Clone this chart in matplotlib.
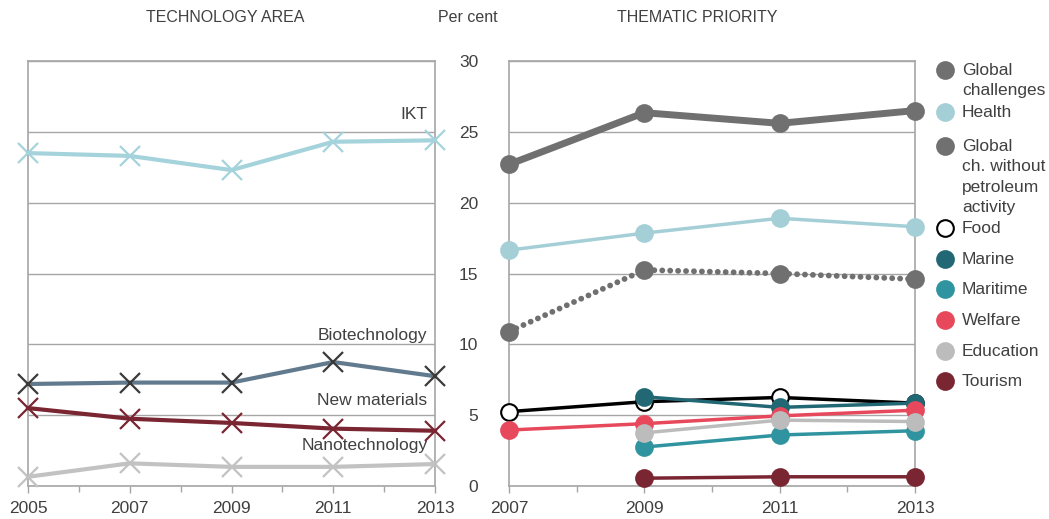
import matplotlib
matplotlib.use('Agg')
import matplotlib.pyplot as plt
from matplotlib.lines import Line2D

plt.rcParams['font.family'] = ['Liberation Sans', 'DejaVu Sans']

TXT = '#404040'
GRID = '#a6a6a6'

# left panel: technology area
tech_years = [2005, 2007, 2009, 2011, 2013]
ikt = [23.5, 23.3, 22.3, 24.3, 24.4]
biotech = [7.2, 7.3, 7.3, 8.75, 7.75]
new_materials = [5.5, 4.75, 4.45, 4.05, 3.9]
nanotech = [0.65, 1.6, 1.35, 1.35, 1.55]

tech_labels = ['IKT', 'Biotechnology', 'New materials', 'Nanotechnology']
tech_label_y = [26.2, 10.65, 6.05, 2.85]

# right panel: thematic priority
theme_years = [2007, 2009, 2011, 2013]
global_ch = [22.7, 26.35, 25.6, 26.5]
health = [16.65, 17.85, 18.9, 18.3]
global_no_oil = [10.9, 15.25, 15.0, 14.6]
food = [5.25, 5.95, 6.25, 5.85]
marine = [None, 6.3, 5.55, 5.85]
maritime = [None, 2.75, 3.6, 3.9]
welfare = [3.95, 4.4, 4.95, 5.35]
education = [None, 3.75, 4.65, 4.55]
tourism = [None, 0.55, 0.65, 0.65]

fig = plt.figure(figsize=(10.49, 5.19), dpi=100)
W, H = 1049, 519
axl = fig.add_axes([28 / W, 33 / H, 407 / W, 425 / H])
axr = fig.add_axes([509 / W, 33 / H, 406 / W, 425 / H])

for ax in (axl, axr):
    ax.set_ylim(0, 30)
    for s in ax.spines.values():
        s.set_color(GRID)
        s.set_linewidth(1.2)
    ax.set_yticks([0, 5, 10, 15, 20, 25, 30])
    ax.grid(axis='y', color=GRID, linewidth=1)
    ax.set_axisbelow(True)
    ax.tick_params(axis='x', colors=GRID, labelcolor=TXT, labelsize=12.5,
                   length=5, width=1, pad=6)
    ax.tick_params(axis='x', which='minor', colors=GRID, length=4, width=1)

axl.set_xlim(2005, 2013)
axl.set_xticks(tech_years)
axl.set_xticks(range(2005, 2014), minor=True)
axl.tick_params(axis='y', length=0, labelleft=False)

axr.set_xlim(2007, 2013)
axr.set_xticks(theme_years)
axr.set_xticks(range(2007, 2014), minor=True)
axr.tick_params(axis='y', length=0, pad=22, labelsize=12.5, labelcolor=TXT)

# technology lines
tech_series = [
    (ikt, '#a5d3dc', '#a5d3dc'),
    (biotech, '#627a8d', '#3a3a3a'),
    (new_materials, '#7a2532', '#7a2532'),
    (nanotech, '#c2c2c2', '#c2c2c2'),
]
for vals, lc, mc in tech_series:
    axl.plot(tech_years, vals, color=lc, linewidth=3, marker='x', markersize=15,
             markeredgewidth=1.6, markeredgecolor=mc, clip_on=False, zorder=3)
for lab, yv in zip(tech_labels, tech_label_y):
    axl.text(2012.85, yv, lab, ha='right', va='center', fontsize=12.5, color=TXT)


def plot_theme(vals, color, lw=2.5, ls='-', face=None, edge=None, ms=12):
    xs = [x for x, v in zip(theme_years, vals) if v is not None]
    ys = [v for v in vals if v is not None]
    line, = axr.plot(xs, ys, color=color, linewidth=lw, linestyle=ls,
                     marker='o', markersize=ms,
                     markerfacecolor=face or color,
                     markeredgecolor=edge or color, markeredgewidth=1.5,
                     clip_on=False, zorder=3)
    return line


plot_theme(global_ch, '#707070', lw=5)
plot_theme(health, '#a5cfd7')
dl = plot_theme(global_no_oil, '#707070', lw=4.2, ls=(0, (0.01, 1.35)))
dl.set_dash_capstyle('round')
plot_theme(food, 'black', face='white', edge='black')
plot_theme(marine, '#216874')
plot_theme(maritime, '#2f94a0')
plot_theme(welfare, '#e8485b')
plot_theme(education, '#bcbcbc')
plot_theme(tourism, '#7a2532')

# legend drawn by hand so markers align with the first text line
legend_items = [
    ('Global\nchallenges', '#707070', '#707070', 70),
    ('Health', '#a5cfd7', '#a5cfd7', 112),
    ('Global\nch. without\npetroleum\nactivity', '#707070', '#707070', 146),
    ('Food', 'white', 'black', 228),
    ('Marine', '#216874', '#216874', 259),
    ('Maritime', '#2f94a0', '#2f94a0', 289),
    ('Welfare', '#e8485b', '#e8485b', 320),
    ('Education', '#bcbcbc', '#bcbcbc', 351),
    ('Tourism', '#7a2532', '#7a2532', 381),
]
for lab, fc, ec, ypx in legend_items:
    yf = 1 - ypx / H
    fig.add_artist(Line2D([945 / W], [yf], marker='o', markersize=12,
                          markerfacecolor=fc, markeredgecolor=ec,
                          markeredgewidth=1.5, linestyle='none'))
    fig.text(962 / W, yf + 7 / H, lab, ha='left', va='top', fontsize=12.5,
             color=TXT, linespacing=1.45)

fig.text(225 / W, 1 - 17 / H, 'TECHNOLOGY AREA', ha='center', va='center',
         fontsize=11.5, color=TXT)
fig.text(468 / W, 1 - 17 / H, 'Per cent', ha='center', va='center',
         fontsize=11.5, color=TXT)
fig.text(697 / W, 1 - 17 / H, 'THEMATIC PRIORITY', ha='center', va='center',
         fontsize=11.5, color=TXT)

fig.savefig('out.png', dpi=100)
